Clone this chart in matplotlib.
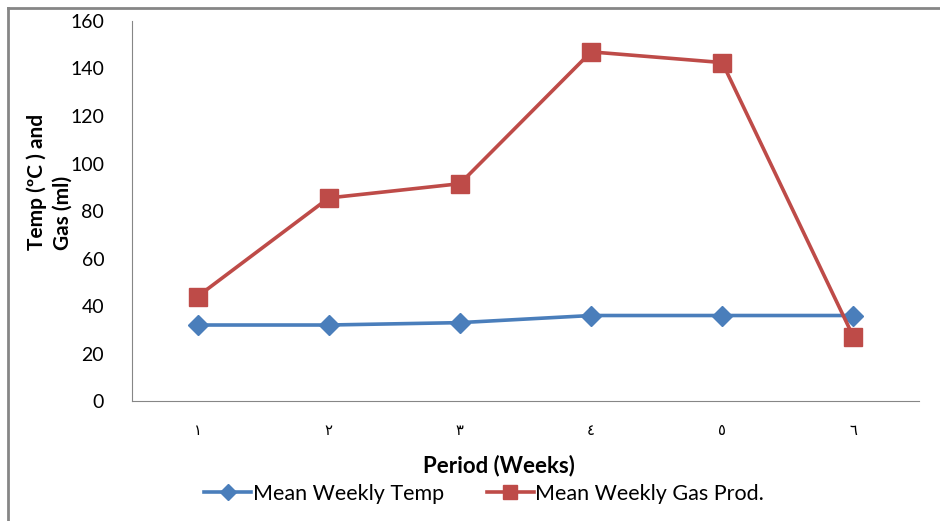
import matplotlib.pyplot as plt
from matplotlib.lines import Line2D

weeks = ['١', '٢', '٣', '٤', '٥', '٦']
temp = [32, 32, 33, 36, 36, 36]
gas = [44, 85.5, 91.5, 147, 142.5, 27]

blue = '#4A7EBB'
red = '#BE4B48'
grey = '#868686'

plt.rcParams['font.family'] = ['Lato', 'DejaVu Sans']

fig = plt.figure(figsize=(9.4, 5.21), dpi=100)
ax = fig.add_axes([0.1404, 0.2303, 0.8373, 0.7294])

x = list(range(len(weeks)))
ax.plot(x, temp, color=blue, lw=2.6, marker='D', ms=10, label='Mean Weekly Temp')
ax.plot(x, gas, color=red, lw=2.6, marker='s', ms=12.5, label='Mean Weekly Gas Prod.')

ax.set_xlim(-0.5, len(weeks) - 0.5)
ax.set_ylim(0, 160)
ax.set_yticks(range(0, 161, 20))
ax.set_xticks(x)
ax.set_xticklabels(weeks, family=['DejaVu Sans'], fontsize=10.5)
ax.tick_params(axis='y', length=0, pad=20, labelsize=14)
ax.tick_params(axis='x', length=0, pad=16)

for s in ['top', 'right']:
    ax.spines[s].set_visible(False)
ax.spines['left'].set_color(grey)
ax.spines['bottom'].set_color(grey)

ax.set_xlabel('Period (Weeks)', fontsize=16, fontweight='bold', va='center')
ax.xaxis.set_label_coords(0.466, -0.171)
fig.text(0.053, 0.651, 'Temp (ºC ) and\nGas (ml)', rotation=90, ha='center', va='center',
         fontsize=15, fontweight='bold', linespacing=1.35, multialignment='left')

leg = fig.legend(loc='center', bbox_to_anchor=(0.515, 0.052), ncol=2, frameon=False,
                 fontsize=15.5, handlelength=2.2, handletextpad=0.05, columnspacing=2.0,
                 markerscale=0.8)

# outer chart border (top and left only visible)
fig.add_artist(Line2D([0.008, 1.0], [0.984, 0.984], color=grey, lw=2))
fig.add_artist(Line2D([0.008, 0.008], [0.0, 0.984], color=grey, lw=2))

fig.savefig('out.png', dpi=100)
